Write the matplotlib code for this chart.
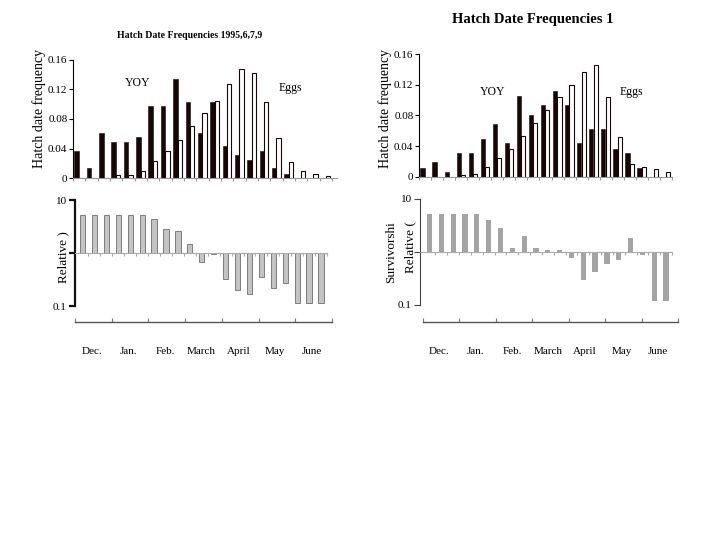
import numpy as np
import matplotlib
matplotlib.use('Agg')
import matplotlib.pyplot as plt

plt.rcParams['font.family'] = ['Liberation Serif', 'DejaVu Serif']

# hatch date frequency, 21 periods (Dec .. June)
yoy_a  = [0.037, 0.013, 0.061, 0.049, 0.049, 0.055, 0.098, 0.098, 0.134, 0.103, 0.061,
          0.103, 0.043, 0.031, 0.024, 0.037, 0.013, 0.006, 0, 0, 0]
eggs_a = [0, 0, 0, 0.004, 0.004, 0.010, 0.023, 0.036, 0.052, 0.070, 0.088,
          0.105, 0.127, 0.148, 0.143, 0.103, 0.054, 0.022, 0.009, 0.006, 0.003]
yoy_b  = [0.012, 0.019, 0.006, 0.031, 0.031, 0.050, 0.069, 0.044, 0.106, 0.081, 0.094,
          0.112, 0.094, 0.044, 0.062, 0.062, 0.037, 0.031, 0.012, 0, 0]
eggs_b = [0, 0, 0, 0.003, 0.004, 0.013, 0.025, 0.037, 0.053, 0.070, 0.087,
          0.104, 0.120, 0.137, 0.146, 0.104, 0.052, 0.017, 0.013, 0.011, 0.006]

# relative survivorship (log scale, baseline 1)
surv_a = [5.1, 5.1, 5.1, 5.1, 5.1, 5.1, 4.3, 2.8, 2.65, 1.5, 0.68,
          0.96, 0.33, 0.20, 0.17, 0.35, 0.22, 0.27, 0.116, 0.116, 0.116]
surv_b = [5.1, 5.1, 5.1, 5.1, 5.1, 4.0, 2.8, 1.19, 1.98, 1.19, 1.08,
          1.09, 0.77, 0.30, 0.42, 0.59, 0.72, 1.84, 0.86, 0.117, 0.117]

months = ['Dec.', 'Jan.', 'Feb.', 'March', 'April', 'May', 'June']

W, H = 720, 540
fig = plt.figure(figsize=(7.2, 5.4), dpi=100)

def box(x0, y0, x1, y1):
    # pixel box -> figure fraction
    return [x0 / W, 1 - y1 / H, (x1 - x0) / W, (y1 - y0) / H]

def hatch_axes(rect, yoy, eggs, xmax, yoy_xy, eggs_xy):
    ax = fig.add_axes(rect)
    n = np.arange(len(yoy))
    ax.bar(n + 0.30, yoy, 0.36, color='#160606', edgecolor='#160606', linewidth=0.4)
    ax.bar(n + 0.66, eggs, 0.34, color='white', edgecolor='#160606', linewidth=0.8)
    ax.set_xlim(0, xmax)
    ax.set_ylim(0, 0.16)
    ax.set_yticks([0, 0.04, 0.08, 0.12, 0.16])
    ax.set_yticklabels(['0', '0.04', '0.08', '0.12', '0.16'])
    ax.set_xticks(np.arange(0, len(yoy) + 1))
    ax.set_xticklabels([])
    for s in ['top', 'right']:
        ax.spines[s].set_visible(False)
    ax.spines['bottom'].set_color('#999999')
    ax.spines['bottom'].set_linewidth(0.8)
    ax.spines['left'].set_linewidth(0.8)
    ax.tick_params(axis='x', length=2, color='#999999')
    ax.tick_params(axis='y', length=3, labelsize=8, pad=1)
    ax.text(*yoy_xy, 'YOY', fontsize=8.5, ha='center', va='center')
    ax.text(*eggs_xy, 'Eggs', fontsize=8.5, ha='center', va='center')
    return ax

def surv_axes(rect, vals, x0, x1, face, edge, spine_col, spine_w):
    ax = fig.add_axes(rect)
    n = np.arange(len(vals))
    v = np.array(vals)
    ax.bar(n, v - 1, 0.44, bottom=1, color=face, edgecolor=edge, linewidth=0.6)
    ax.set_yscale('log')
    ax.set_ylim(0.1, 10)
    ax.set_xlim(x0, x1)
    ax.set_yticks([0.1, 1, 10])
    ax.set_yticklabels(['0.1', '', '10'])
    ax.minorticks_off()
    ax.set_xticks(n + 0.5)
    ax.set_xticklabels([])
    for s in ['top', 'right']:
        ax.spines[s].set_visible(False)
    ax.spines['bottom'].set_position(('data', 1))
    ax.spines['bottom'].set_color('#aaaaaa')
    ax.spines['bottom'].set_linewidth(0.8)
    ax.spines['left'].set_color(spine_col)
    ax.spines['left'].set_linewidth(spine_w)
    ax.tick_params(axis='x', length=2, color='#aaaaaa')
    ax.tick_params(axis='y', length=4, labelsize=8, pad=2, color=spine_col, width=spine_w)
    return ax

def month_axes(rect):
    ax = fig.add_axes(rect)
    ax.set_xlim(0, 7)
    ax.set_ylim(0, 1)
    for s in ['top', 'right', 'left']:
        ax.spines[s].set_visible(False)
    ax.spines['bottom'].set_color('#555555')
    ax.spines['bottom'].set_linewidth(1.0)
    ax.set_yticks([])
    ax.set_xticks(np.arange(8))
    ax.set_xticklabels([])
    ax.set_xticks(np.arange(7) + 0.45, minor=True)
    ax.set_xticklabels(months, minor=True)
    ax.tick_params(axis='x', which='major', direction='in', length=3, color='#777777')
    ax.tick_params(axis='x', which='minor', length=0, labelsize=8, pad=18)
    ax.patch.set_visible(False)
    return ax

# left panel
hatch_axes(box(73, 60, 337, 178), yoy_a, eggs_a, 21.4, (5.2, 0.129), (17.6, 0.122))
surv_axes(box(75, 200, 327, 306), surv_a, -0.63, 20.5, '#c4c4c4', '#6e6e6e', '#111111', 1.6)
month_axes(box(75, 321, 332, 322))

# right panel
hatch_axes(box(419, 54, 672, 177), yoy_b, eggs_b, 21.0, (6.1, 0.111), (17.6, 0.111))
surv_axes(box(420, 199, 672, 305), surv_b, -0.8, 20.3, '#a4a4a4', 'none', '#444444', 0.8)
month_axes(box(423, 321, 678, 322))

# titles and axis labels
fig.text(190 / W, 1 - 35 / H, 'Hatch Date Frequencies 1995,6,7,9',
         fontsize=7, fontweight='bold', ha='center', va='center')
fig.text(533 / W, 1 - 20 / H, 'Hatch Date Frequencies 1',
         fontsize=10.5, fontweight='bold', ha='center', va='center')
fig.text(39 / W, 1 - 108 / H, 'Hatch date frequency', rotation=90,
         fontsize=10, ha='center', va='center')
fig.text(385 / W, 1 - 108 / H, 'Hatch date frequency', rotation=90,
         fontsize=10, ha='center', va='center')
fig.text(63 / W, 1 - 257 / H, 'Relative )', rotation=90,
         fontsize=9.5, ha='center', va='center')
fig.text(410 / W, 1 - 247 / H, 'Relative (', rotation=90,
         fontsize=9.5, ha='center', va='center')
fig.text(391 / W, 1 - 252 / H, 'Survivorshi', rotation=90,
         fontsize=9.5, ha='center', va='center')

fig.savefig('out.png', dpi=100)
